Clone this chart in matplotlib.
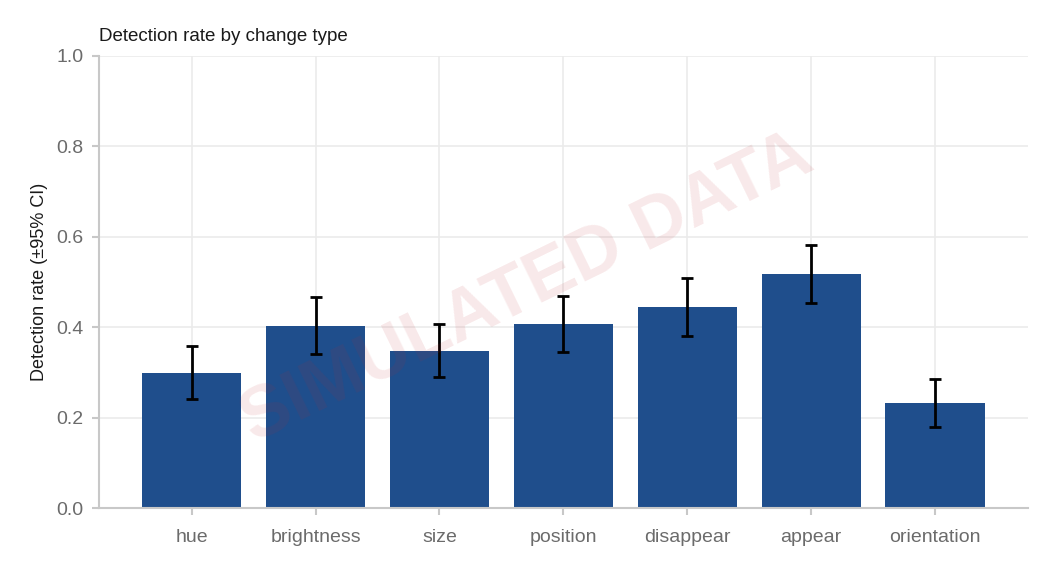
import matplotlib
matplotlib.use("Agg")
import matplotlib.pyplot as plt

plt.rcParams['font.family'] = ['Liberation Sans', 'DejaVu Sans']

change_types = ['hue', 'brightness', 'size', 'position', 'disappear', 'appear', 'orientation']
rates = [0.299, 0.403, 0.347, 0.407, 0.445, 0.518, 0.232]
ci_low = [0.241, 0.341, 0.290, 0.345, 0.381, 0.454, 0.179]
ci_high = [0.358, 0.467, 0.407, 0.469, 0.509, 0.582, 0.285]

err = [[r - lo for r, lo in zip(rates, ci_low)],
       [hi - r for r, hi in zip(rates, ci_high)]]

fig, ax = plt.subplots(figsize=(10.5, 5.7), dpi=100)
fig.subplots_adjust(left=0.094, right=0.979, top=0.902, bottom=0.108)

x = range(len(change_types))
ax.bar(x, rates, width=0.8, color='#1f4e8c', zorder=2)
ax.errorbar(x, rates, yerr=err, fmt='none', ecolor='black', elinewidth=2,
            capsize=4, capthick=2, zorder=3)

ax.set_xlim(-0.75, 6.75)
ax.set_ylim(0, 1.0)
ax.set_xticks(list(x))
ax.set_xticklabels(change_types)
ax.set_yticks([0, 0.2, 0.4, 0.6, 0.8, 1.0])
ax.set_yticklabels(['0.0', '0.2', '0.4', '0.6', '0.8', '1.0'])

ax.grid(True, color='#ebebeb', linewidth=1.2, zorder=0)
ax.set_axisbelow(True)
for s in ['top', 'right']:
    ax.spines[s].set_visible(False)
for s in ['left', 'bottom']:
    ax.spines[s].set_color('#c8c8c8')
    ax.spines[s].set_linewidth(1.5)
ax.tick_params(colors='#c8c8c8', labelcolor='#6b6b6b', labelsize=14,
               length=5, width=1.5)
ax.tick_params(axis='x', pad=10)
ax.tick_params(axis='y', pad=6)

ax.set_ylabel('Detection rate (±95% CI)', fontsize=13, color='#1a1a1a', labelpad=6)
ax.set_title('Detection rate by change type', loc='left', fontsize=13.5,
             color='#1a1a1a', pad=11)

fig.text(0.502, 0.495, 'SIMULATED DATA', fontsize=52, fontweight='bold',
         color='#c0282d', alpha=0.1, rotation=26, ha='center', va='center')

fig.savefig('out.png', dpi=100)
